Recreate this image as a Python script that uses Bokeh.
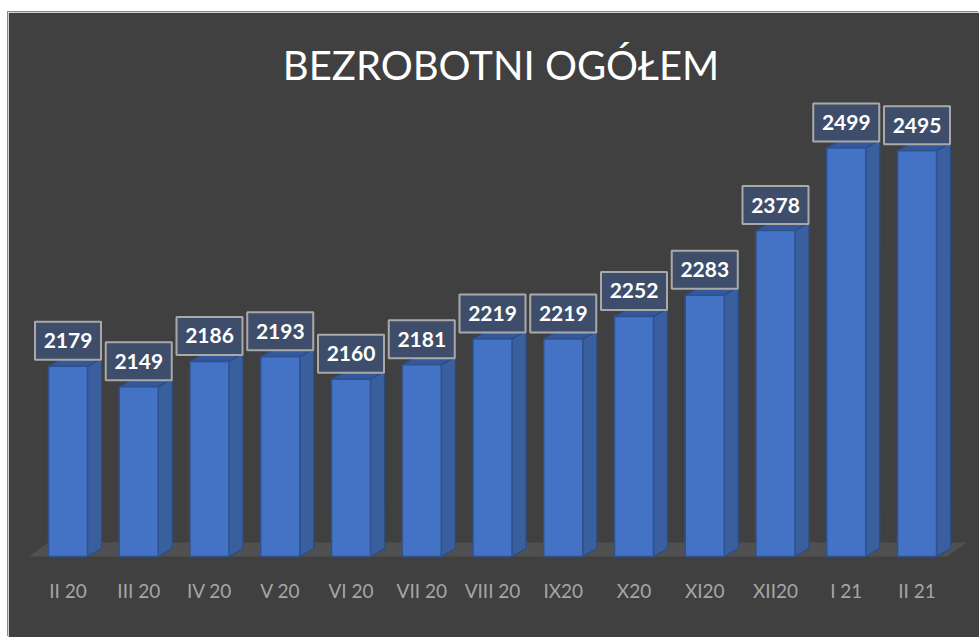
from bokeh.plotting import figure
from bokeh.models import Range1d, FixedTicker, ColumnDataSource
from bokeh.core.properties import value
from bokeh.embed import file_html
from bokeh.resources import INLINE

# ---- data ----
categories = ["II 20", "III 20", "IV 20", "V 20", "VI 20", "VII 20", "VIII 20",
              "IX20", "X20", "XI20", "XII20", "I 21", "II 21"]
values = [2179, 2149, 2186, 2193, 2160, 2181, 2219, 2219, 2252, 2283, 2378, 2499, 2495]
axis_min = 1900
title_text = "BEZROBOTNI OGÓŁEM"

# ---- layout constants ----
W, H = 971, 625
LEFT = 14
TOP, BOTTOM = 88, 71
frame_h = H - TOP - BOTTOM
frame_w = W - LEFT
PX_Y = 0.682      # pixels per value unit
PX_X = 70.75      # pixels per category
X0 = 59.5 - LEFT  # pixel of first category centre from frame left
BASE_GAP = 10     # pixels from frame bottom to bar base

y_start = axis_min - BASE_GAP / PX_Y
y_end = y_start + frame_h / PX_Y
x_start = -X0 / PX_X
x_end = x_start + frame_w / PX_X

BAR_W = 39 / PX_X
DX = 14 / PX_X
DY = 8 / PX_Y

n = len(values)
xs_idx = list(range(n))

p = figure(width=W, height=H, output_backend="svg", toolbar_location=None,
           x_range=Range1d(x_start, x_end), y_range=Range1d(y_start, y_end),
           y_axis_location=None, min_border_left=LEFT, min_border_right=0,
           min_border_top=TOP, min_border_bottom=BOTTOM)
p.margin = (12, 0, 0, 8)
p.styles = {"box-shadow": "-1px -1px 0 #8a8a8a"}
p.background_fill_color = "#404040"
p.border_fill_color = "#404040"
p.outline_line_color = "#404040"
p.outline_line_width = 3
p.grid.visible = False

p.title.text = title_text
p.title.align = "center"
p.title.text_font = "Lato"
p.title.text_font_size = "40px"
p.title.text_font_style = "normal"
p.title.text_color = "#ffffff"
p.title.standoff = 24

# floor
fx0, fx1 = -0.55, n - 1 + 0.43
fdx = 0.27
fdy = 14 / PX_Y
p.patch([fx0, fx1, fx1 + fdx, fx0 + fdx], [axis_min, axis_min, axis_min + fdy, axis_min + fdy],
        fill_color="#505050", line_color=None)

# side faces
side_xs = [[i + BAR_W / 2, i + BAR_W / 2 + DX, i + BAR_W / 2 + DX, i + BAR_W / 2] for i in xs_idx]
side_ys = [[axis_min, axis_min + DY, v + DY, v] for v in values]
p.patches(side_xs, side_ys, fill_color="#3a5f9f", line_color="#2b4c85", line_width=1.2)

# top faces
top_xs = [[i - BAR_W / 2, i + BAR_W / 2, i + BAR_W / 2 + DX, i - BAR_W / 2 + DX] for i in xs_idx]
top_ys = [[v, v, v + DY, v + DY] for v in values]
p.patches(top_xs, top_ys, fill_color="#34589a", line_color="#2b4c85", line_width=1.2)

# front faces
src = ColumnDataSource(dict(x=xs_idx, top=values, label=[str(v) for v in values],
                            box_y=[v + 25.5 / PX_Y for v in values]))
p.vbar(x="x", top="top", bottom=axis_min, width=BAR_W, source=src,
       fill_color="#4472c4", line_color="#2f528f", line_width=1.5)

# data label boxes
p.rect(x="x", y="box_y", width=66 / PX_X, height=38 / PX_Y, source=src,
       fill_color="#3e4d69", line_color="#a9a9a9", line_width=2)
p.text(x="x", y="box_y", text="label", source=src, text_align="center",
       text_baseline="middle", text_color="#ffffff", text_font=value("Lato"),
       text_font_size="21px", text_font_style="bold")

# x axis
ax = p.xaxis[0]
ax.ticker = FixedTicker(ticks=xs_idx)
ax.major_label_overrides = {i: c for i, c in enumerate(categories)}
ax.axis_line_color = None
ax.major_tick_line_color = None
ax.minor_tick_line_color = None
ax.major_label_text_color = "#a6a6a6"
ax.major_label_text_font = "Lato"
ax.major_label_text_font_size = "19px"
ax.major_label_standoff = 6

open("out.html", "w").write(file_html(p, INLINE))
